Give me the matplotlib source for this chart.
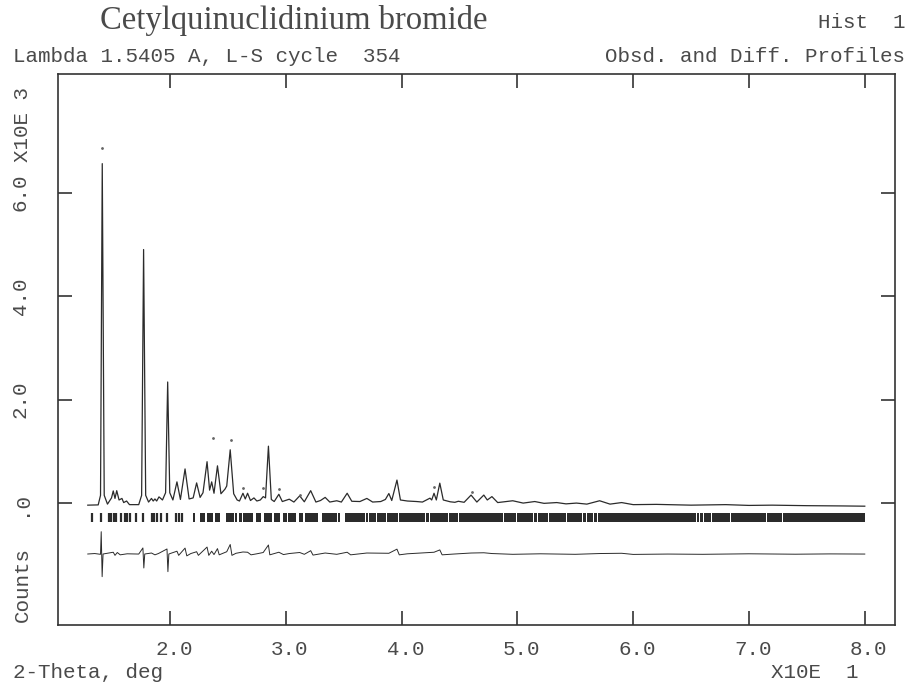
import matplotlib
matplotlib.use("Agg")
import matplotlib.pyplot as plt
import matplotlib.transforms as mtransforms
import numpy as np

W, H = 910, 686
MONO = "Liberation Mono"
INK = "#2b2b2b"
TXT = "#4a4a4a"

obs_points = [
    (12.9, -40), (13.8, -35), (14.0, 150), (14.15, 6560), (14.32, 150), (14.6, -20),
    (14.95, 100), (15.1, 235), (15.25, 90), (15.4, 240), (15.6, 60), (15.85, 90),
    (16.0, 10), (16.25, 40), (16.5, -30), (17.3, -30), (17.55, 150), (17.72, 4900),
    (17.9, 150), (18.15, 20), (18.4, 90), (18.55, 40), (18.7, 80), (18.85, 40),
    (19.05, 120), (19.35, 60), (19.62, 200), (19.8, 2340), (19.98, 200), (20.25, 60),
    (20.6, 410), (20.9, 70), (21.3, 660), (21.65, 80), (22.0, 100), (22.3, 390),
    (22.6, 110), (22.85, 200), (23.2, 800), (23.42, 250), (23.6, 410), (23.8, 190),
    (24.1, 720), (24.4, 180), (24.75, 270), (24.9, 330), (25.2, 1030), (25.5, 180),
    (25.8, 60), (26.0, 40), (26.3, 190), (26.5, 80), (26.7, 190), (26.95, 50),
    (27.25, 100), (27.5, 40), (27.8, 60), (28.05, 125), (28.25, 100), (28.5, 1100),
    (28.75, 70), (29.0, 30), (29.4, 170), (29.7, 30), (30.3, 75), (30.7, 20),
    (31.2, 140), (31.6, 25), (32.15, 240), (32.6, 20), (33.0, 50), (33.4, 110),
    (33.8, 20), (34.4, 45), (34.8, 20), (35.3, 190), (35.7, 35), (36.4, 30),
    (37.0, 90), (37.5, 20), (38.2, 30), (38.6, 70), (38.9, 185), (39.15, 50),
    (39.6, 445), (39.9, 60), (40.5, 40), (41.3, 30), (41.8, 20), (42.45, 95),
    (42.6, 60), (42.8, 190), (43.0, 60), (43.3, 385), (43.6, 60), (44.2, 25),
    (44.6, 15), (44.9, 35), (45.4, 15), (46.0, 155), (46.5, 20), (47.1, 155),
    (47.4, 60), (47.8, 125), (48.3, 10), (49.6, 45), (50.5, 0), (51.5, 30),
    (52.3, -5), (53.4, 10), (54.2, -15), (55.1, 0), (56.0, -20), (57.1, 45),
    (58.0, -20), (59.0, 10), (60.0, -30), (62.0, -25), (65.0, -40), (68.0, -30),
    (70.0, -45), (72.0, -40), (75.0, -50), (78.0, -55), (80.0, -60),
]

# loose observed points sitting above some peaks
stray_points = [(14.15, 6860), (23.7, 1250), (25.25, 1220), (26.3, 286),
                (28.06, 286), (29.4, 266), (31.2, 156), (42.8, 320), (46.1, 210)]

# difference curve (obs - calc), drawn offset below the tick row
diff_points = [
    (12.9, -984), (13.5, -975), (14.0, -990), (14.06, -553), (14.14, -1422), (14.22, -984),
    (15.1, -950), (15.25, -1010), (15.45, -955), (15.7, -1000), (16.3, -980), (17.3, -985),
    (17.66, -867), (17.74, -1254), (17.82, -984), (18.4, -965), (18.7, -1000), (19.0, -975),
    (19.74, -887), (19.82, -1325), (19.9, -984), (20.6, -930), (20.75, -1010), (21.3, -870),
    (21.45, -1020), (21.8, -975), (22.3, -940), (22.45, -1010), (23.2, -850), (23.35, -1010),
    (23.6, -930), (23.8, -995), (24.1, -880), (24.25, -1000), (24.9, -940), (25.2, -800),
    (25.35, -1010), (25.7, -970), (26.3, -945), (26.7, -950), (27.0, -1000), (27.5, -980),
    (28.05, -955), (28.5, -810), (28.62, -1000), (29.4, -950), (29.8, -995), (30.3, -975),
    (31.2, -955), (31.6, -990), (32.15, -920), (32.35, -1005), (33.4, -965), (34.4, -990),
    (35.3, -950), (35.6, -1000), (37.0, -965), (38.9, -970), (39.6, -890), (39.8, -1000),
    (40.5, -980), (42.8, -950), (43.3, -905), (43.5, -1000), (44.5, -985), (46.0, -965),
    (47.1, -960), (47.8, -975), (49.6, -990), (52.0, -980), (55.0, -990), (57.1, -975),
    (59.0, -970), (60.0, -992), (63.0, -985), (66.0, -990), (70.0, -980), (74.0, -988),
    (77.0, -982), (80.0, -985),
]

# reflection markers: separate ticks at low angle, solid runs further out
refl_single = [13.25, 14.02, 14.71, 14.91, 15.15, 15.38, 15.73, 16.1, 16.32, 16.55,
               17.05, 17.7, 18.43, 18.66, 18.9, 19.19, 19.75, 20.55, 20.8, 21.05]
refl_blocks = [
    (22.0, 22.2), (22.6, 23.0), (23.2, 23.7), (23.9, 24.3), (24.8, 25.5), (25.6, 25.8),
    (26.0, 26.2), (26.3, 27.2), (27.4, 27.9), (28.1, 28.8), (29.0, 29.5), (29.8, 30.1),
    (30.2, 30.9), (31.1, 31.5), (31.7, 32.8), (33.1, 34.4), (34.55, 34.7), (35.1, 36.8),
    (36.9, 37.08), (37.16, 37.8), (37.9, 38.66), (38.76, 39.68), (39.76, 41.12),
    (41.2, 42.06), (42.14, 42.41), (42.49, 43.28), (43.36, 43.99), (44.07, 44.86),
    (44.94, 45.35), (45.43, 46.3), (46.38, 48.74), (48.82, 49.9), (49.98, 51.33),
    (51.41, 51.68), (51.76, 52.63), (52.71, 53.64), (53.72, 54.22), (54.3, 55.28),
    (55.36, 55.56), (55.64, 55.94), (56.02, 56.51), (56.59, 56.86), (56.94, 60.12),
    (60.2, 65.44), (65.52, 65.67), (65.75, 66.01), (66.09, 66.74), (66.82, 67.46),
    (67.54, 68.38), (68.46, 68.75), (68.83, 71.49), (71.57, 72.87), (72.95, 78.34),
    (78.42, 80.0),
]
refl_lo, refl_hi = -356, -201

x_ticks = [20, 30, 40, 50, 60, 70, 80]
x_ticklabels = ["2.0", "3.0", "4.0", "5.0", "6.0", "7.0", "8.0"]
y_ticks = [0, 2000, 4000, 6000]
y_ticklabels = [".0", "2.0", "4.0", "6.0"]

fig = plt.figure(figsize=(W / 100, H / 100), dpi=100)
ax = fig.add_axes([57.5 / W, 1 - 625 / H, (895 - 57.5) / W, (625 - 74) / H])

tth, cts = np.array(obs_points).T
ax.plot(tth, cts, color=INK, lw=0.9)
sx, sy = np.array(stray_points).T
ax.plot(sx, sy, ls="none", marker=".", ms=2, color="#666666")
dx, dy = np.array(diff_points).T
ax.plot(dx, dy, color=INK, lw=0.7)

ax.vlines(refl_single, refl_lo, refl_hi, color=INK, lw=1.6)
ax.broken_barh([(a, b - a) for a, b in refl_blocks], (refl_lo, refl_hi - refl_lo),
               facecolor=INK, edgecolor="none")

ax.set_xlim(10.285, 82.61)
ax.set_ylim(-2356, 8292)

for s in ax.spines.values():
    s.set_color("#333333")
    s.set_linewidth(1.2)

ax.set_xticks(x_ticks)
ax.set_xticklabels(x_ticklabels, fontfamily=MONO, fontsize=15, color=TXT)
ax.set_yticks(y_ticks)
ax.set_yticklabels(y_ticklabels, fontfamily=MONO, fontsize=15, color=TXT,
                   rotation=90, va="center")
ax.tick_params(axis="both", direction="in", top=True, right=True, length=10,
               width=1.2, color="#333333")
ax.tick_params(axis="x", pad=11)
ax.tick_params(axis="y", pad=20)

# labels sit a little right of their ticks in the original
shift = mtransforms.ScaledTranslation(4 / 100, 0, fig.dpi_scale_trans)
for lab in ax.get_xticklabels():
    lab.set_transform(lab.get_transform() + shift)


def ftext(x, y, s, **kw):
    fig.text(x / W, 1 - y / H, s, color=TXT, **kw)


ftext(100, 21, "Cetylquinuclidinium bromide", fontfamily="Liberation Serif",
      fontsize=23.5, va="center", ha="left")
ftext(905, 22, "Hist  1", fontfamily=MONO, fontsize=15, va="center", ha="right")
ftext(13, 57, "Lambda 1.5405 A, L-S cycle  354", fontfamily=MONO, fontsize=15,
      va="center", ha="left")
ftext(905, 57, "Obsd. and Diff. Profiles", fontfamily=MONO, fontsize=15,
      va="center", ha="right")
ftext(22, 125, "X10E 3", fontfamily=MONO, fontsize=15, va="center", ha="center",
      rotation=90)
ftext(22, 585, "Counts", fontfamily=MONO, fontsize=15, va="center", ha="center",
      rotation=90)
ftext(13, 672, "2-Theta, deg", fontfamily=MONO, fontsize=15, va="center", ha="left")
ftext(815, 672, "X10E  1", fontfamily=MONO, fontsize=15, va="center", ha="center")

fig.savefig("out.png", dpi=100, facecolor="white")
